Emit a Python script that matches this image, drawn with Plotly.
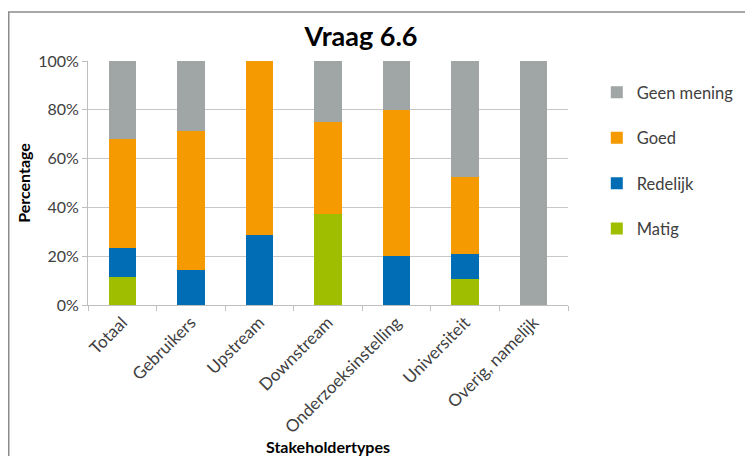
import plotly.graph_objects as go

categories = ["Totaal", "Gebruikers", "Upstream", "Downstream",
              "Onderzoeksinstelling", "Universiteit", "Overig, namelijk"]
matig = [0.114, 0.0, 0.0, 0.375, 0.0, 0.105, 0.0]
redelijk = [0.121, 0.143, 0.286, 0.0, 0.20, 0.105, 0.0]
goed = [0.446, 0.571, 0.714, 0.375, 0.60, 0.316, 0.0]
geen_mening = [0.319, 0.286, 0.0, 0.25, 0.20, 0.474, 1.0]

series = [
    ("Matig", matig, "#9FBE00"),
    ("Redelijk", redelijk, "#006DB5"),
    ("Goed", goed, "#F59A00"),
    ("Geen mening", geen_mening, "#A0A5A5"),
]

FONT = "Lato"
TXT = "#404040"

fig = go.Figure()
n = len(series)
for i, (name, vals, color) in enumerate(series):
    fig.add_trace(go.Bar(
        x=categories, y=vals, name=name, legendgroup=name,
        legendrank=n - i,
        marker=dict(color=color, line=dict(width=0)),
        width=0.4,
    ))

fig.update_layout(
    width=753, height=456,
    barmode="stack",
    paper_bgcolor="white", plot_bgcolor="white",
    margin=dict(l=80, r=193, t=53, b=159, autoexpand=False),
    font=dict(family=FONT, size=16, color=TXT),
    title=dict(text="<b>Vraag 6.6</b>", x=353/753, xanchor="center",
               y=1 - 29/456, yanchor="middle",
               font=dict(family=FONT, size=27, color="black")),
    showlegend=True,
    legend=dict(x=1.06, xanchor="left", y=(305 - 75) / 244, yanchor="top",
                traceorder="grouped",
                tracegroupgap=21, font=dict(family=FONT, size=16.5, color=TXT),
                bgcolor="rgba(0,0,0,0)"),
)

fig.update_xaxes(
    type="category",
    automargin=False,
    tickangle=-45,
    showline=True, linecolor="#BFBFBF", linewidth=1,
    ticks="outside", tickson="boundaries", ticklen=5, tickcolor="#BFBFBF",
    showgrid=False,
    tickfont=dict(family=FONT, size=17, color=TXT),
    title=dict(text="<b>Stakeholdertypes</b>", standoff=0,
               font=dict(family=FONT, size=16, color="black")),
)
fig.update_yaxes(
    automargin=False,
    range=[0, 1], dtick=0.2, tickformat=".0%",
    showline=True, linecolor="#BFBFBF", linewidth=1,
    showgrid=True, gridcolor="#C8C8C8", gridwidth=1,
    ticks="outside", ticklen=5, tickcolor="#BFBFBF",
    zeroline=False,
    tickfont=dict(family=FONT, size=16, color=TXT),
    title=dict(text="<b>Percentage</b>", standoff=3,
               font=dict(family=FONT, size=16, color="black")),
)

fig.add_shape(type="rect", xref="paper", yref="paper",
              x0=(0.75 - 80) / 480, x1=(780 - 80) / 480,
              y0=(297 - 470) / 244, y1=(297 - 4) / 244,
              line=dict(color="#8C8C8C", width=1.5), layer="above")

fig.write_html("out.html")
